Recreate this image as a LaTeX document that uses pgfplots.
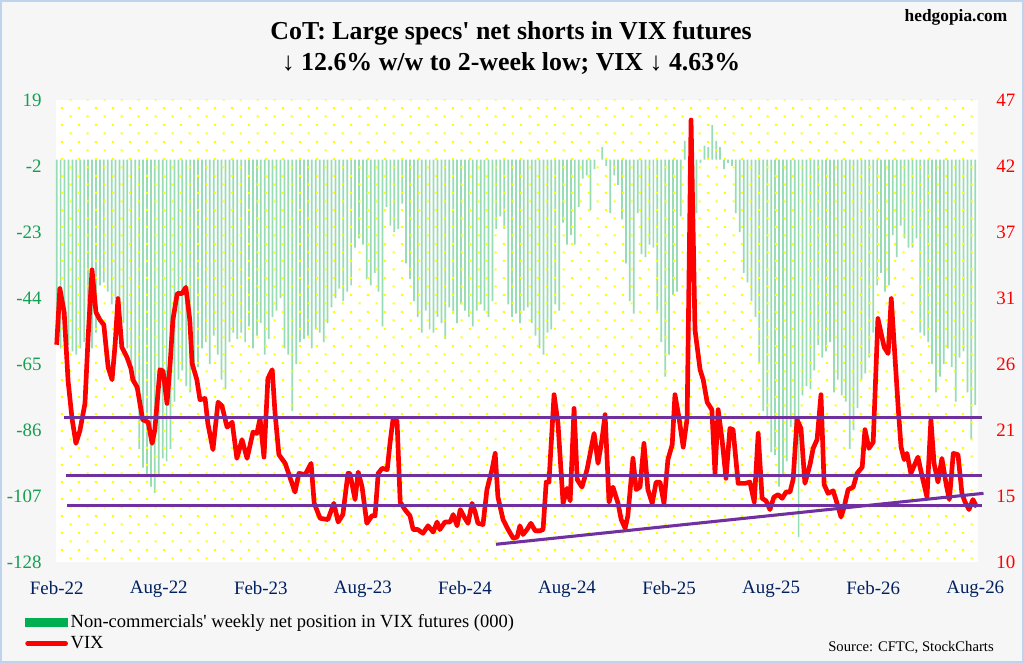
\documentclass[border=0pt]{standalone}
\usepackage{fontspec}
\setmainfont{Liberation Serif}[Ligatures=TeXOff]
\usepackage{pgfplots}
\pgfplotsset{compat=1.18}
\usetikzlibrary{patterns}
\definecolor{barGreen}{RGB}{150,220,180}
\definecolor{legGreen}{RGB}{0,176,80}
\definecolor{tickGreen}{RGB}{20,160,80}
\definecolor{navy}{RGB}{0,32,96}
\definecolor{vixPurple}{RGB}{112,48,160}
\definecolor{bgGrey}{RGB}{246,246,246}
\definecolor{borderBlue}{RGB}{190,212,238}
\pgfdeclarepatternformonly{ydots}{\pgfpoint{0pt}{0pt}}{\pgfpoint{13pt}{13pt}}{\pgfpoint{13pt}{13pt}}{%
  \pgfpathrectangle{\pgfpoint{0.5pt}{0.5pt}}{\pgfpoint{1.6pt}{1.6pt}}%
  \pgfpathrectangle{\pgfpoint{7pt}{7pt}}{\pgfpoint{1.6pt}{1.6pt}}%
  \pgfusepath{fill}}
\newcommand{\tickfont}{\fontsize{14.2}{17}\selectfont}
\begin{document}
\begin{tikzpicture}
\path[use as bounding box] (0,0) rectangle (768pt,-497.25pt);
\fill[bgGrey] (0,0) rectangle (768pt,-497.25pt);
\draw[borderBlue, line width=1.5pt] (0.75pt,-0.75pt) rectangle (767.25pt,-496.5pt);
\node[font=\bfseries\fontsize{19.4}{23.25}\selectfont, align=center] at (383.25pt,-35.6pt)
  {CoT: Large specs' net shorts in VIX futures\\ ↓ 12.6\% w/w to 2-week low; VIX ↓ 4.63\%};
\node[font=\bfseries\fontsize{13}{15}\selectfont, anchor=east] at (759pt,-12.75pt) {hedgopia.com};
\node[font=\fontsize{11}{13}\selectfont, anchor=base east, inner sep=0pt] at (745.5pt,-488.25pt) {Source: CFTC, StockCharts};

\begin{axis}[
  at={(42pt,-421.5pt)}, anchor=south west,
  width=691.5pt, height=346.5pt, scale only axis,
  xmin=-0.18, xmax=234.7, ymin=-128, ymax=19,
  axis y line*=left, axis x line*=bottom,
  axis line style={draw=none}, major tick length=0pt,
  axis background/.style={fill=white},
  ytick={19,-2,-23,-44,-65,-86,-107,-128},
  yticklabels={19,-2,-23,-44,-65,-86,-107,-128},
  yticklabel style={font=\tickfont, text=tickGreen, xshift=-7.3pt},
  xtick={0,26,52,78,104,130,156,182,208,234},
  xticklabels={Feb-22,Aug-22,Feb-23,Aug-23,Feb-24,Aug-24,Feb-25,Aug-25,Feb-26,Aug-26},
  xticklabel style={font=\tickfont, text=navy, yshift=-11pt},
]
\addplot[ybar, bar width=1.3pt, fill=barGreen, draw=none] coordinates {
(0,-58) (1,-60) (2,-57) (3,-59) (4,-61) (5,-62) (6,-60) (7,-58) (8,-56) (9,-60)
(10,-55) (11,-40) (12,-39) (13,-42) (14,-46) (15,-44) (16,-48) (17,-52) (18,-60) (19,-70)
(20,-73) (21,-92) (22,-98) (23,-100) (24,-104) (25,-106) (26,-100) (27,-95) (28,-96) (29,-92)
(30,-77) (31,-70) (32,-67) (33,-72) (34,-74) (35,-68) (36,-66) (37,-60) (38,-58) (39,-65)
(40,-56) (41,-62) (42,-70) (43,-73) (44,-58) (45,-55) (46,-57) (47,-55) (48,-58) (49,-53)
(50,-60) (51,-56) (52,-52) (53,-62) (54,-57) (55,-50) (56,-48) (57,-44) (58,-60) (59,-62)
(60,-80) (61,-65) (62,-58) (63,-57) (64,-56) (65,-60) (66,-54) (67,-55) (68,-58) (69,-52)
(70,-47) (71,-44) (72,-41) (73,-45) (74,-42) (75,-40) (76,-28) (77,-25) (78,-27) (79,-38)
(80,-40) (81,-36) (82,-42) (83,-53) (84,-15) (85,-21) (86,-23) (87,-22) (88,-14) (89,-33)
(90,-38) (91,-45) (92,-50) (93,-55) (94,-48) (95,-54) (96,-55) (97,-50) (98,-52) (99,-57)
(100,-47) (101,-49) (102,-52) (103,-46) (104,-48) (105,-50) (106,-53) (107,-48) (108,-46) (109,-48)
(110,-50) (111,-45) (112,-22) (113,-18) (114,-22) (115,-46) (116,-50) (117,-49) (118,-52) (119,-48)
(120,-47) (121,-52) (122,-56) (123,-60) (124,-62) (125,-55) (126,-54) (127,-46) (128,-48) (129,-20)
(130,-27) (131,-24) (132,-27) (133,-15) (134,-6) (135,-5) (136,-16) (137,-3) (138,0) (139,4)
(140,-2) (141,-17) (142,-5) (143,-8) (144,-19) (145,-33) (146,-45) (147,-49) (148,-17) (149,-30)
(150,-31) (151,-27) (152,-28) (153,-48) (154,-58) (155,-69) (156,-62) (157,-43) (158,-42) (159,-18)
(160,6) (161,-8) (162,-20) (163,-17) (164,-1) (165,4.5) (166,4) (167,11) (168,6) (169,4)
(170,-3) (171,-1) (172,-2) (173,-17) (174,-23) (175,-36) (176,-39) (177,-45) (178,-50) (179,-65)
(180,-80) (181,-82) (182,-93) (183,-94) (184,-104) (185,-100) (186,-96) (187,-85) (188,-100) (189,-120)
(190,-75) (191,-72) (192,-73) (193,-67) (194,-59) (195,-63) (196,-61) (197,-58) (198,-74) (199,-70)
(200,-75) (201,-77) (202,-92) (203,-86) (204,-79) (205,-70) (206,-68) (207,-63) (208,-55) (209,-40)
(210,-36) (211,-42) (212,-40) (213,-24) (214,-31) (215,-21) (216,-25) (217,-28) (218,-28) (219,-25)
(220,-55) (221,-56) (222,-58) (223,-65) (224,-74) (225,-69) (226,-65) (227,-60) (228,-66) (229,-77)
(230,-63) (231,-61) (232,-74) (233,-89) (234,-78)
};
\fill[pattern=ydots, pattern color=yellow] (rel axis cs:0,0) rectangle (rel axis cs:1,1);
\end{axis}

\begin{axis}[
  at={(42pt,-421.5pt)}, anchor=south west,
  width=691.5pt, height=346.5pt, scale only axis,
  xmin=-0.18, xmax=234.7, ymin=10, ymax=47,
  axis y line*=right, hide x axis,
  axis line style={draw=none}, major tick length=0pt,
  clip=false,
  ytick={10,15.2857,20.5714,25.8571,31.1429,36.4286,41.7143,47},
  yticklabels={10,15,21,26,31,37,42,47},
  yticklabel style={font=\tickfont, text=red, xshift=10.3pt},
  legend style={at={(axis description cs:-0.0336,-0.1077)}, anchor=north west,
    draw=none, fill=none, inner sep=0pt, font=\fontsize{13.9}{16}\selectfont,
    row sep=1pt, /tikz/every even column/.append style={column sep=1pt}},
  legend cell align=left,
]
\addlegendimage{legend image code/.code={\fill[legGreen] (0pt,-3.2pt) rectangle (31.5pt,3.2pt);}}
\addlegendentry{Non-commercials' weekly net position in VIX futures (000)}
\addplot[red, line width=3.5pt, line join=round,
  legend image code/.code={\draw[red, line width=3.5pt, line cap=round] (1.5pt,0pt) -- (30pt,0pt);}] coordinates {
(0,27.4) (0.8,31.9) (1.9,30.0) (2.9,24.5) (3.9,21.5) (4.9,19.5) (5.9,20.5) (7.2,22.7) (8.0,28.0) (9.0,33.4)
(10.0,30.0) (11.0,29.4) (12.0,29.0) (13.1,25.6) (14.1,24.6) (14.9,27.5) (15.6,31.1) (16.6,27.2) (17.9,26.4) (18.9,25.5)
(19.4,24.6) (20.5,24.0) (21.9,21.4) (23.3,21.2) (24.3,19.5) (25.0,20.6) (26.3,25.4) (27.1,25.3) (28.1,22.7) (28.9,25.9)
(29.6,29.4) (30.7,31.5) (31.9,31.5) (32.9,32.0) (33.9,29.4) (34.5,25.9) (35.7,24.6) (36.5,23.0) (37.8,23.1) (38.5,21.1)
(39.8,19.0) (41.1,22.8) (42.1,22.5) (43.4,20.8) (44.7,21.2) (45.9,18.3) (47.2,19.8) (48.5,18.3) (50.0,20.4) (51.0,20.3)
(51.8,21.5) (52.8,18.4) (53.8,24.7) (54.9,25.4) (55.6,22.0) (56.6,18.6) (58.2,17.9) (59.4,16.8) (60.7,15.6) (61.7,17.1)
(63.3,17.0) (64.8,17.9) (65.6,14.7) (67.1,13.5) (69.1,13.4) (70.6,14.7) (71.7,13.2) (72.9,13.8) (74.2,17.1) (74.7,17.1)
(76.0,15.0) (76.8,17.2) (77.8,16.0) (79.0,13.1) (80.3,13.7) (81.1,13.7) (81.9,17.1) (82.9,17.5) (84.2,17.4) (84.9,19.5)
(85.7,21.5) (86.7,21.3) (87.5,14.8) (88.7,14.2) (90.0,13.7) (90.8,12.6) (92.0,12.6) (93.3,12.3) (94.6,12.9) (95.9,12.4)
(96.9,13.2) (97.6,12.6) (98.9,13.2) (100.2,13.2) (101.0,13.8) (102.0,12.9) (102.8,14.2) (104.0,13.5) (104.8,13.1) (105.8,14.7)
(106.6,14.0) (107.3,13.1) (108.6,13.0) (109.6,15.8) (110.9,17.4) (111.7,18.7) (112.4,15.2) (113.7,13.4) (115.0,12.6) (116.3,11.9)
(117.3,12.0) (118.0,12.9) (118.8,12.2) (119.8,12.6) (120.8,13.1) (121.9,12.5) (123.1,12.5) (123.9,12.6) (124.7,16.4) (125.4,16.4)
(126.7,23.4) (127.7,21.1) (129.0,14.7) (130.0,15.9) (130.8,14.9) (131.8,22.3) (132.6,16.6) (133.8,16.0) (135.1,17.4) (136.4,19.5)
(136.9,20.3) (137.9,17.9) (138.9,19.8) (139.7,21.8) (140.7,14.8) (141.7,16.0) (143.0,14.7) (143.8,13.4) (144.8,12.7) (145.5,13.7)
(146.8,18.3) (147.6,15.8) (148.6,16.0) (149.6,19.5) (150.6,15.8) (151.7,14.7) (152.7,16.4) (153.7,16.4) (154.7,14.7) (155.7,18.2)
(156.8,19.4) (157.5,23.4) (158.5,21.6) (159.6,19.2) (160.6,21.5) (161.6,45.4) (162.6,28.6) (163.9,25.4) (164.7,24.6) (165.7,22.8)
(166.9,22.2) (167.7,17.1) (168.5,22.2) (169.5,19.8) (170.5,16.7) (171.5,20.7) (172.3,20.6) (173.6,16.3) (175.4,16.3) (176.6,16.4)
(177.7,14.8) (178.7,20.3) (179.7,15.1) (180.7,14.9) (181.7,14.2) (182.7,15.2) (183.8,15.4) (184.8,15.1) (185.8,15.6) (186.8,15.6)
(187.6,16.6) (188.6,21.4) (189.6,20.7) (190.6,16.3) (191.9,17.8) (192.7,19.1) (193.7,19.8) (194.7,23.4) (195.5,16.2) (196.5,15.5)
(197.8,15.7) (198.8,14.7) (199.8,13.6) (200.6,14.4) (201.6,15.8) (202.9,16.0) (203.9,17.1) (205.2,17.6) (205.9,20.6) (206.9,19.1)
(208.0,19.6) (209.2,29.5) (210.8,27.2) (211.8,26.7) (212.6,31.1) (213.1,28.6) (214.4,22.2) (215.1,19.2) (215.9,18.2) (216.6,18.7)
(217.6,17.1) (218.7,17.9) (219.4,18.4) (220.5,16.8) (221.7,15.2) (222.7,21.4) (223.5,17.9) (224.5,16.4) (225.5,18.3) (226.6,16.2)
(227.4,15.0) (228.4,18.7) (229.6,18.6) (230.6,15.5) (231.4,14.8) (232.4,14.2) (233.4,15.0) (234.4,14.4)
};
\addlegendentry{VIX}
\addplot[vixPurple, line width=2.3pt, forget plot] coordinates {(1.9,21.6) (235.7,21.6)};
\addplot[vixPurple, line width=2.3pt, forget plot] coordinates {(2.3,16.9) (235.7,16.9)};
\addplot[vixPurple, line width=2.3pt, forget plot] coordinates {(2.6,14.5) (235.7,14.5)};
\addplot[vixPurple, line width=2.3pt, forget plot] coordinates {(111.9,11.42) (236.1,15.5)};
\end{axis}
\end{tikzpicture}
\end{document}
